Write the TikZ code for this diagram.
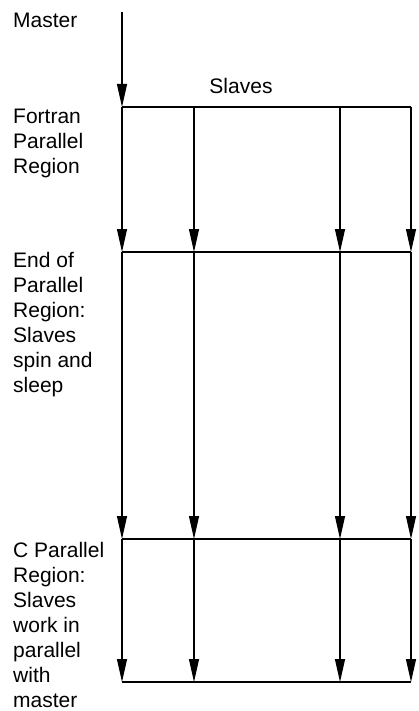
\documentclass[tikz,border=0pt]{standalone}
\usepackage{fontspec}
\setmainfont{Liberation Sans}
\usetikzlibrary{arrows.meta}
\begin{document}
\begin{tikzpicture}[x=1pt,y=1pt,
  flow/.style={line width=1.2pt,-{Triangle[length=23pt,width=10pt]}},
  bar/.style={line width=1.2pt},
  lbl/.style={inner sep=0pt,anchor=base west,align=left,font=\fontsize{21}{25}\selectfont}]
\useasboundingbox (0,0) rectangle (419,-711);
% columns and rows
\foreach \c/\x in {a/122,b/194,c/340,d/411}{
  \foreach \r/\y in {1/107,2/252,3/539,4/682}{
    \coordinate (\c\r) at (\x,-\y);
  }
}
\coordinate (m0) at (122,-12);
% horizontal bars
\draw[bar] (a1) -- (d1);
\draw[bar] (a2) -- (d2);
\draw[bar] (a3) -- (d3);
\draw[bar] (a4) -- (d4);
% master arrow
\draw[flow] (m0) -- (a1);
% thread arrows
\foreach \c in {a,b,c,d}{
  \draw[flow] (\c1) -- (\c2);
  \draw[flow] (\c2) -- (\c3);
  \draw[flow] (\c3) -- (\c4);
}
% labels (base anchor = baseline of the last line)
\node[lbl] (master) at (13,-28) {Master};
\node[lbl,anchor=base] (slaves) at (241,-94) {Slaves};
\node[lbl] (fortran) at (13,-174) {Fortran\\Parallel\\Region};
\node[lbl] (endpr) at (13,-392) {End of\\Parallel\\Region:\\Slaves\\spin and\\sleep};
\node[lbl] (cpr) at (13,-707) {C Parallel\\Region:\\Slaves\\work in\\parallel\\with\\master};
\end{tikzpicture}
\end{document}
